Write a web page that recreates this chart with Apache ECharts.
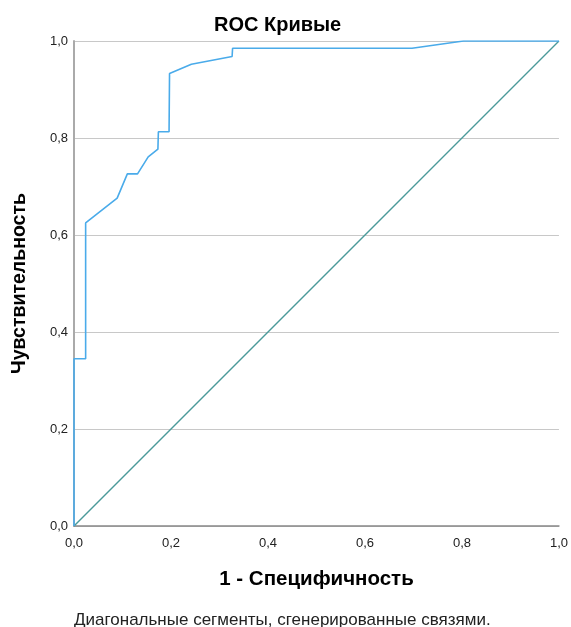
<!DOCTYPE html>
<html><head><meta charset="utf-8">
<script src="https://cdn.jsdelivr.net/npm/echarts@6/dist/echarts.min.js"></script>
<style>html,body{margin:0;padding:0;background:#fff}#c{width:571px;height:627px}</style>
</head><body><div id="c"></div>
<script>
var rocX = [0, 0, 0.024, 0.024, 0.089, 0.110, 0.131, 0.153, 0.173, 0.174, 0.196, 0.197, 0.242, 0.326, 0.327, 0.697, 0.803, 1.0];
var rocY = [0, 0.345, 0.345, 0.625, 0.676, 0.726, 0.726, 0.761, 0.777, 0.813, 0.813, 0.933, 0.952, 0.968, 0.985, 0.985, 1.0, 1.0];
var refX = [0, 1];
var refY = [0, 1];
var ticks = [0, 0.2, 0.4, 0.6, 0.8, 1.0];
var fmt = function (v) { return v.toFixed(1).replace('.', ','); };
var font = 'Liberation Sans, Arial, sans-serif';
var chart = echarts.init(document.getElementById('c'));
chart.setOption({
  animation: false,
  title: [
    { text: 'ROC Кривые', left: 214, top: 15, padding: 0, textStyle: { fontFamily: font, fontSize: 20, fontWeight: 'bold', color: '#000' } },
    { text: 'Диагональные сегменты, сгенерированные связями.', left: 74, top: 612, padding: 0, textStyle: { fontFamily: font, fontSize: 17, fontWeight: 'normal', color: '#222' } }
  ],
  grid: { left: 74, right: 10, top: 41, bottom: 101 },
  xAxis: {
    type: 'value', min: 0, max: 1, interval: 0.2,
    name: '1 - Специфичность', nameLocation: 'middle', nameGap: 43,
    nameTextStyle: { fontFamily: font, fontSize: 20.5, fontWeight: 'bold', color: '#000' },
    axisLine: { lineStyle: { color: '#888', width: 1.5 } },
    axisTick: { show: false },
    splitLine: { show: false },
    axisLabel: { formatter: fmt, fontFamily: font, fontSize: 13, color: '#222', margin: 11 }
  },
  yAxis: {
    type: 'value', min: 0, max: 1, interval: 0.2,
    name: 'Чувствительность', nameLocation: 'middle', nameGap: 44, nameRotate: 90,
    nameTextStyle: { fontFamily: font, fontSize: 19.5, fontWeight: 'bold', color: '#000' },
    axisLine: { show: true, lineStyle: { color: '#aaa', width: 2 } },
    axisTick: { show: false },
    splitLine: { lineStyle: { color: '#c8c8c8', width: 1.2 } },
    axisLabel: { formatter: fmt, fontFamily: font, fontSize: 13, color: '#222', margin: 6 }
  },
  series: [
    { type: 'line', data: rocX.map(function (x, i) { return [x, rocY[i]]; }), showSymbol: false, z: 3,
      lineStyle: { color: '#4aabea', width: 1.6 } },
    { type: 'line', data: refX.map(function (x, i) { return [x, refY[i]]; }), showSymbol: false, z: 2,
      lineStyle: { color: '#4a9a9a', width: 1.4 } }
  ]
});
</script></body></html>
